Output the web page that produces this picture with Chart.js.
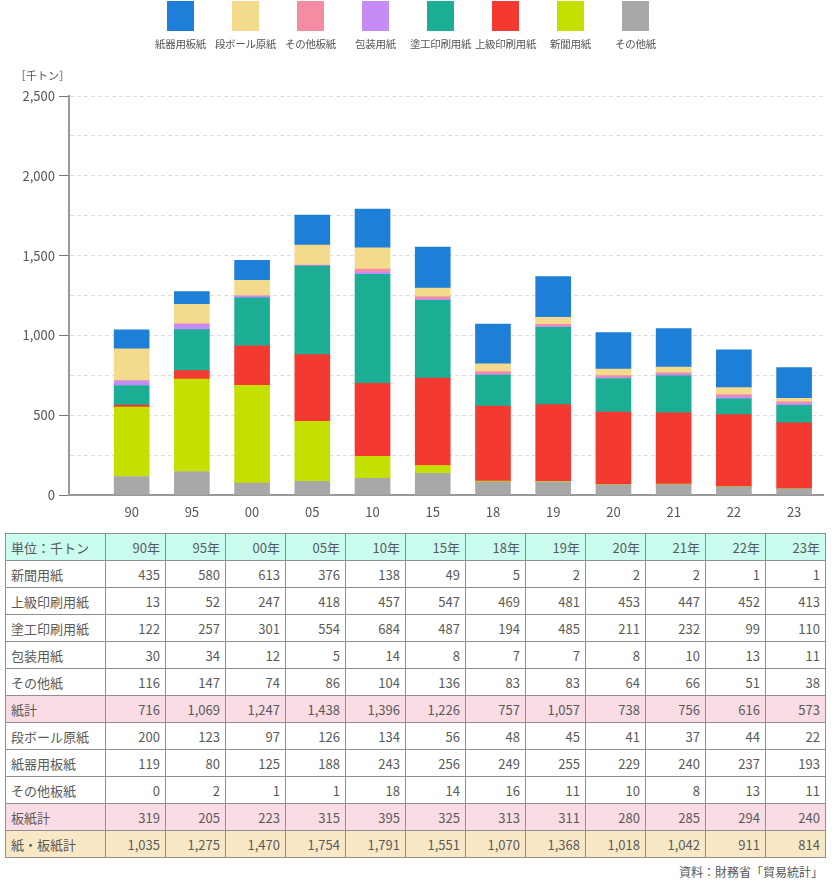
<!DOCTYPE html>
<html lang="ja">
<head>
<meta charset="utf-8">
<script src="https://cdn.jsdelivr.net/npm/chart.js@4.4.1/dist/chart.umd.min.js"></script>
<style>
  body { margin: 0; background: #fff; font-family: "Noto Sans CJK JP", "Noto Sans", sans-serif; color: #555; }
  #page { position: relative; width: 833px; height: 884px; }
  #legend { position: absolute; left: 148px; top: 0; display: flex; }
  .item { width: 65px; text-align: center; font-size: 10.5px; white-space: nowrap; letter-spacing: -0.3px; }
  .item .box { width: 27px; height: 30px; margin: 1px auto 5px; }
  #unit { position: absolute; left: 15px; top: 67px; font-size: 11px; }
  #chartBox { position: absolute; left: 0; top: 0; width: 833px; height: 525px; }
  #tbl { position: absolute; left: 5px; top: 533px; border-collapse: collapse; table-layout: fixed; font-size: 13px; color: #5a5a5a; }
  #tbl td { border: 1px solid #8f8f8f; height: 26px; padding: 0 5px; text-align: right; white-space: nowrap; }
  #tbl td:first-child { text-align: left; }
  #tbl tr.head td { background: #cafcf0; }
  #tbl tr.sub td { background: #f9dce4; }
  #tbl tr.total td { background: #f8e8c6; }
  #src { position: absolute; right: 10px; top: 863px; font-size: 12px; }
</style>
</head>
<body>
<div id="page">
  <div id="chartBox"><canvas id="chart"></canvas></div>
  <div id="legend"></div>
  <div id="unit">［千トン］</div>
  <table id="tbl"></table>
  <div id="src">資料：財務省「貿易統計」</div>
</div>
<script>
// categories
const years = ["90", "95", "00", "05", "10", "15", "18", "19", "20", "21", "22", "23"];

// series (千トン)
const shinbun = [435, 580, 613, 376, 138, 49, 5, 2, 2, 2, 1, 1];
const joukyu = [13, 52, 247, 418, 457, 547, 469, 481, 453, 447, 452, 413];
const toukou = [122, 257, 301, 554, 684, 487, 194, 485, 211, 232, 99, 110];
const housou = [30, 34, 12, 5, 14, 8, 7, 7, 8, 10, 13, 11];
const sonotaShi = [116, 147, 74, 86, 104, 136, 83, 83, 64, 66, 51, 38];
const kamiKei = [716, 1069, 1247, 1438, 1396, 1226, 757, 1057, 738, 756, 616, 573];
const danbouru = [200, 123, 97, 126, 134, 56, 48, 45, 41, 37, 44, 22];
const shiki = [119, 80, 125, 188, 243, 256, 249, 255, 229, 240, 237, 193];
const sonotaIta = [0, 2, 1, 1, 18, 14, 16, 11, 10, 8, 13, 11];
const itaKei = [319, 205, 223, 315, 395, 325, 313, 311, 280, 285, 294, 240];
const zenKei = [1035, 1275, 1470, 1754, 1791, 1551, 1070, 1368, 1018, 1042, 911, 814];

// y ticks
const yMax = 2500;
const yStep = 250;
const yLabelStep = 500;

// stack order, bottom first
const series = [
  { name: "その他紙", data: sonotaShi, color: "#a8a8a8" },
  { name: "新聞用紙", data: shinbun, color: "#c4e000" },
  { name: "上級印刷用紙", data: joukyu, color: "#f43a30" },
  { name: "塗工印刷用紙", data: toukou, color: "#1cae94" },
  { name: "包装用紙", data: housou, color: "#c48cf4" },
  { name: "その他板紙", data: sonotaIta, color: "#f48ca4" },
  { name: "段ボール原紙", data: danbouru, color: "#f4da8c" },
  { name: "紙器用板紙", data: shiki, color: "#1e7fd8" }
];

// legend (top of stack first)
const legend = document.getElementById("legend");
series.slice().reverse().forEach(s => {
  const d = document.createElement("div");
  d.className = "item";
  d.innerHTML = `<div class="box" style="background:${s.color}"></div>${s.name}`;
  legend.appendChild(d);
});

// chart
new Chart(document.getElementById("chart"), {
  type: "bar",
  data: {
    datasets: series.map(s => ({
      label: s.name,
      data: s.data.map((v, i) => ({ x: i, y: v })),
      backgroundColor: s.color,
      borderWidth: 0,
      barThickness: 35
    }))
  },
  options: {
    responsive: true,
    maintainAspectRatio: false,
    animation: false,
    layout: { padding: { top: 96, right: 10, left: 0, bottom: 0 } },
    plugins: { legend: { display: false }, tooltip: { enabled: false } },
    scales: {
      x: {
        type: "linear",
        stacked: true,
        offset: false,
        min: -1.04,
        max: 11.48,
        grid: { display: false, offset: false },
        border: { color: "#999", width: 2 },
        afterBuildTicks: axis => { axis.ticks = years.map((y, i) => ({ value: i })); },
        afterFit: axis => { axis.height = 30; },
        ticks: {
          padding: 1,
          color: "#555",
          font: { size: 13, family: "Noto Sans CJK JP" },
          callback: v => years[v] ?? ""
        }
      },
      y: {
        stacked: true,
        min: 0,
        max: yMax,
        afterFit: axis => { axis.width = 69; },
        border: { color: "#999", width: 2, dash: [4, 3] },
        grid: {
          color: "#dedede",
          lineWidth: 1,
          tickLength: 10,
          tickColor: ctx => (ctx.tick && ctx.tick.value % yLabelStep === 0) ? "#777" : "transparent"
        },
        ticks: {
          stepSize: yStep,
          padding: 4,
          color: "#555",
          font: { size: 13, family: "Noto Sans CJK JP" },
          callback: v => v % yLabelStep === 0 ? v.toLocaleString("en-US") : ""
        }
      }
    }
  }
});

// table
const rows = [
  { name: "新聞用紙", data: shinbun },
  { name: "上級印刷用紙", data: joukyu },
  { name: "塗工印刷用紙", data: toukou },
  { name: "包装用紙", data: housou },
  { name: "その他紙", data: sonotaShi },
  { name: "紙計", data: kamiKei, cls: "sub" },
  { name: "段ボール原紙", data: danbouru },
  { name: "紙器用板紙", data: shiki },
  { name: "その他板紙", data: sonotaIta },
  { name: "板紙計", data: itaKei, cls: "sub" },
  { name: "紙・板紙計", data: zenKei, cls: "total" }
];
let html = '<colgroup><col style="width:100px">' + years.map(() => '<col style="width:60px">').join("") + '</colgroup>';
html += '<tr class="head"><td>単位：千トン</td>' + years.map(y => `<td>${y}年</td>`).join("") + '</tr>';
rows.forEach(r => {
  html += `<tr class="${r.cls || ""}"><td>${r.name}</td>` + r.data.map(v => `<td>${v.toLocaleString("en-US")}</td>`).join("") + '</tr>';
});
document.getElementById("tbl").innerHTML = html;
</script>
</body>
</html>
